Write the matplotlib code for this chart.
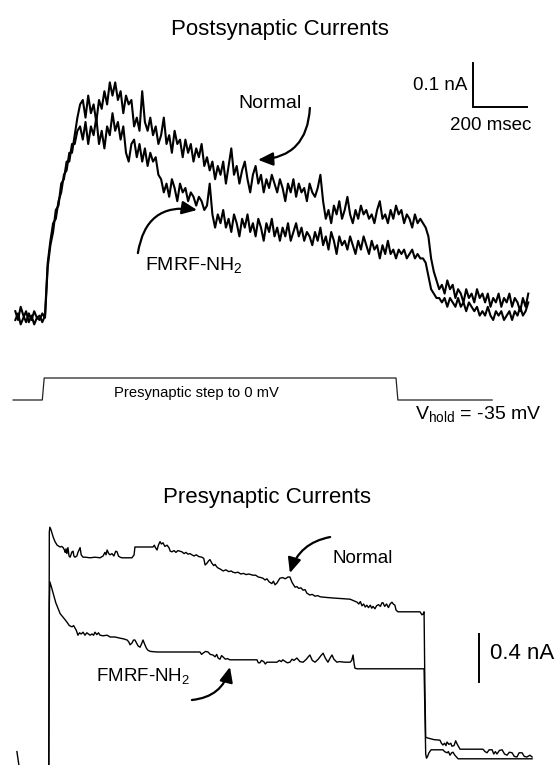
import numpy as np
import matplotlib.pyplot as plt

plt.rcParams['font.family'] = ['Liberation Sans', 'DejaVu Sans']

# postsynaptic currents (nA), one sample every 10 ms from 110 ms before the step
post_normal = [
    0.02, 0.0, 0.03, 0.01, -0.005, 0.015, 0.0, 0.02, 0.005, 0.01, -0.005, 0.01,
    0.13, 0.18, 0.22, 0.23, 0.27, 0.29, 0.33, 0.34, 0.38, 0.38, 0.42, 0.46, 0.49,
    0.50, 0.46, 0.51, 0.47, 0.49, 0.45, 0.50, 0.48, 0.52, 0.49, 0.54, 0.51, 0.54, 0.50, 0.52, 0.47, 0.51, 0.49, 0.50,
    0.44, 0.46, 0.43, 0.52, 0.45, 0.43, 0.46, 0.42, 0.44, 0.40,
    0.42, 0.46, 0.40, 0.42, 0.38, 0.43, 0.40, 0.41, 0.37, 0.41, 0.38, 0.40, 0.36, 0.39, 0.37, 0.40, 0.35, 0.37,
    0.34, 0.36, 0.32, 0.35, 0.33, 0.36, 0.31, 0.35, 0.39, 0.33, 0.35, 0.31, 0.34, 0.36, 0.32, 0.29, 0.33, 0.35,
    0.31, 0.33, 0.29, 0.32, 0.30, 0.33, 0.31, 0.29, 0.32,
    0.30, 0.27, 0.31, 0.29, 0.32, 0.28, 0.31, 0.29, 0.30, 0.27, 0.31, 0.29, 0.28, 0.30, 0.33,
    0.27, 0.23, 0.25, 0.22, 0.26, 0.24, 0.27, 0.23, 0.25, 0.28, 0.24, 0.22, 0.25, 0.23, 0.26, 0.24, 0.25, 0.23,
    0.24, 0.22, 0.25, 0.27, 0.23, 0.24, 0.22, 0.25, 0.23, 0.26, 0.24, 0.25, 0.22, 0.24, 0.23, 0.21, 0.24, 0.22, 0.23,
    0.22, 0.21, 0.19, 0.14, 0.11, 0.09,
    0.07, 0.08, 0.06, 0.09, 0.07, 0.08, 0.05, 0.07, 0.06, 0.04, 0.07, 0.05, 0.06, 0.04, 0.07, 0.05, 0.06,
    0.04, 0.06, 0.03, 0.05, 0.04, 0.06, 0.03, 0.05, 0.04, 0.06, 0.03, 0.05, 0.04, 0.02, 0.05, 0.03, 0.06,
]
post_fmrf = [
    0.0, 0.015, -0.01, 0.005, 0.02, -0.005, 0.01, -0.01, 0.005, 0.0, 0.015, 0.005,
    0.12, 0.17, 0.20, 0.25, 0.26, 0.31, 0.32, 0.36, 0.36, 0.40, 0.40, 0.43, 0.44,
    0.41, 0.45, 0.40, 0.44, 0.42, 0.46, 0.40, 0.43, 0.39, 0.44, 0.42, 0.47, 0.43, 0.45, 0.41, 0.44, 0.38, 0.36, 0.40,
    0.41, 0.37, 0.40, 0.36, 0.39, 0.35, 0.38, 0.36, 0.37, 0.33,
    0.32, 0.29, 0.31, 0.28, 0.32, 0.30, 0.27, 0.31, 0.29, 0.30, 0.27, 0.29, 0.28, 0.26, 0.28, 0.27, 0.25, 0.26,
    0.31, 0.24, 0.21, 0.24, 0.22, 0.25, 0.21, 0.23, 0.20, 0.24, 0.22, 0.19, 0.23, 0.21, 0.24, 0.20, 0.22, 0.19,
    0.23, 0.21, 0.18, 0.22, 0.20, 0.23, 0.19, 0.21, 0.18,
    0.21, 0.19, 0.22, 0.18, 0.20, 0.22, 0.19, 0.21, 0.18, 0.20, 0.19, 0.17, 0.20, 0.18, 0.21,
    0.17, 0.19, 0.16, 0.20, 0.18, 0.15, 0.19, 0.17, 0.18, 0.16, 0.19, 0.17, 0.15, 0.18, 0.16, 0.19, 0.17, 0.15,
    0.18, 0.16, 0.17, 0.14, 0.17, 0.15, 0.18, 0.15, 0.16, 0.14, 0.16, 0.15, 0.16, 0.14, 0.15, 0.16, 0.14, 0.15, 0.14,
    0.14, 0.13, 0.10, 0.07, 0.06, 0.05,
    0.05, 0.04, 0.05, 0.03, 0.05, 0.04, 0.03, 0.05, 0.03, 0.04, 0.02, 0.04, 0.03, 0.02, 0.03, 0.01, 0.02,
    0.01, 0.03, 0.01, 0.0, 0.02, 0.01, 0.02, 0.0, 0.01, 0.02, 0.0, 0.02, 0.01, 0.03, 0.01, 0.02, 0.04,
]
post_t_normal = -110 + 10 * np.arange(len(post_normal))
post_t_fmrf = -110 + 10 * np.arange(len(post_fmrf))

# presynaptic voltage step (ms, mV)
step_t = [-118, -10, -3, 1300, 1307, 1656]
step_v = [-35, -35, 0, 0, -35, -35]

# presynaptic currents (ms, nA)
pre_normal_t = [
    -104, -93, 14, 16, 18, 22, 30, 37, 45, 56, 62, 67, 72, 75, 78, 81, 85, 89, 93, 100, 104, 107, 111, 118,
    122, 126, 130, 134, 141, 150, 167, 185, 204, 215, 222, 226, 230, 236, 241, 248, 255, 262, 267, 272, 278,
    285, 322, 330, 333, 400, 405, 409, 415, 420, 426, 431, 437, 444, 452, 459, 464, 470, 478, 485, 492, 500,
    507, 515, 522, 530, 537, 544, 552, 560, 570, 581, 588, 593, 600, 606, 611, 618, 625, 630, 636, 641, 650,
    660, 670, 680, 690, 696, 705, 715, 725, 735, 745, 755, 770, 780, 790, 800, 807, 815, 822, 830, 840, 846,
    852, 859, 866, 870, 880, 890, 900, 907, 915, 926, 933, 940, 948, 956, 963, 970, 981, 990, 1000, 1010,
    1019, 1040, 1067, 1100, 1130, 1156, 1162, 1168, 1174, 1180, 1186, 1192, 1198, 1205, 1210, 1215, 1222,
    1228, 1235, 1242, 1248, 1252, 1258, 1265, 1272, 1278, 1285, 1290, 1296, 1300, 1307, 1389, 1396, 1400,
    1404, 1407, 1410, 1415, 1440, 1463, 1468, 1474, 1480, 1485, 1489, 1496, 1503, 1507, 1515, 1521, 1526,
    1537, 1622, 1630, 1637, 1645, 1656, 1662, 1668, 1674, 1683, 1693, 1702, 1711, 1720, 1730, 1738, 1748,
    1756, 1767, 1775, 1785, 1796, 1804,
]
pre_normal_i = [
    0.07, -0.10, -0.10, 1.90, 1.94, 1.92, 1.86, 1.82, 1.79, 1.775, 1.78, 1.77, 1.75, 1.73, 1.76, 1.72, 1.77,
    1.70, 1.69, 1.735, 1.74, 1.70, 1.69, 1.70, 1.73, 1.75, 1.77, 1.71, 1.69, 1.69, 1.685, 1.69, 1.685, 1.70,
    1.73, 1.71, 1.75, 1.72, 1.71, 1.72, 1.70, 1.74, 1.735, 1.70, 1.69, 1.685, 1.685, 1.71, 1.775, 1.775,
    1.79, 1.77, 1.75, 1.79, 1.82, 1.80, 1.81, 1.78, 1.79, 1.77, 1.74, 1.735, 1.745, 1.73, 1.745, 1.74, 1.735,
    1.72, 1.73, 1.715, 1.72, 1.71, 1.70, 1.71, 1.695, 1.69, 1.68, 1.625, 1.64, 1.66, 1.67, 1.64, 1.62, 1.63,
    1.61, 1.60, 1.59, 1.575, 1.585, 1.57, 1.575, 1.565, 1.56, 1.565, 1.55, 1.555, 1.545, 1.55, 1.54, 1.54,
    1.525, 1.52, 1.515, 1.50, 1.51, 1.485, 1.47, 1.49, 1.46, 1.475, 1.50, 1.515, 1.52, 1.51, 1.525, 1.525,
    1.48, 1.44, 1.445, 1.43, 1.435, 1.415, 1.42, 1.39, 1.375, 1.38, 1.365, 1.37, 1.36, 1.355, 1.35, 1.345,
    1.34, 1.315, 1.30, 1.32, 1.285, 1.30, 1.275, 1.29, 1.27, 1.29, 1.265, 1.28, 1.26, 1.285, 1.295, 1.28,
    1.31, 1.31, 1.28, 1.30, 1.27, 1.30, 1.315, 1.30, 1.29, 1.25, 1.235, 1.235, 1.21, 1.215, 1.235, 0.60,
    0.19, 0.185, 0.17, 0.165, 0.14, 0.125, 0.14, 0.12, 0.15, 0.13, 0.14, 0.115, 0.12, 0.16, 0.135, 0.09,
    0.09, 0.07, 0.06, 0.085, 0.085, 0.05, 0.07, 0.05, 0.08, 0.085, 0.05, 0.04, 0.065, 0.06, 0.03, 0.025,
    0.06, 0.06, 0.03, 0.025, 0.04, 0.025,
]
pre_fmrf_t = [
    -110, 14, 16, 18, 24, 30, 40, 48, 56, 67, 74, 81, 90, 100, 106, 111, 116, 122, 128, 134, 141, 148, 155,
    161, 167, 174, 180, 185, 192, 198, 204, 215, 230, 241, 260, 278, 290, 304, 310, 315, 322, 328, 333, 340,
    345, 352, 358, 363, 370, 376, 381, 390, 415, 574, 580, 585, 595, 604, 612, 622, 630, 636, 641, 648, 654,
    659, 668, 675, 685, 785, 790, 796, 802, 810, 816, 822, 859, 868, 875, 881, 890, 898, 907, 915, 922, 933,
    944, 956, 968, 975, 981, 990, 1000, 1012, 1022, 1030, 1038, 1048, 1056, 1063, 1070, 1081, 1090, 1110,
    1130, 1136, 1141, 1145, 1148, 1156, 1404, 1407, 1410, 1413, 1417, 1422, 1430, 1474, 1480, 1489, 1494,
    1500, 1506, 1511, 1518, 1524, 1530, 1804,
]
pre_fmrf_i = [
    -0.10, -0.10, 1.30, 1.485, 1.44, 1.39, 1.31, 1.265, 1.22, 1.19, 1.17, 1.15, 1.12, 1.11, 1.12, 1.10, 1.08,
    1.04, 1.06, 1.05, 1.065, 1.04, 1.06, 1.05, 1.04, 1.05, 1.04, 1.065, 1.045, 1.06, 1.04, 1.035, 1.04,
    1.025, 1.025, 1.015, 1.01, 1.0, 0.985, 0.96, 0.975, 1.0, 1.0, 0.97, 0.95, 0.94, 0.97, 1.0, 0.96, 0.93,
    0.915, 0.905, 0.9, 0.9, 0.88, 0.89, 0.905, 0.9, 0.88, 0.875, 0.86, 0.88, 0.85, 0.84, 0.87, 0.86, 0.84,
    0.845, 0.835, 0.835, 0.81, 0.81, 0.83, 0.82, 0.80, 0.815, 0.815, 0.83, 0.82, 0.835, 0.82, 0.81, 0.815,
    0.84, 0.83, 0.85, 0.82, 0.815, 0.84, 0.86, 0.875, 0.83, 0.815, 0.84, 0.87, 0.89, 0.85, 0.815, 0.85,
    0.875, 0.84, 0.815, 0.82, 0.815, 0.815, 0.83, 0.875, 0.80, 0.765, 0.76, 0.76, 0.40, 0.05, 0.015, 0.03,
    0.06, 0.085, 0.085, 0.07, 0.06, 0.07, 0.04, 0.06, 0.065, 0.04, 0.025, 0.01, 0.01,
]

W, H = 559, 765
px_per_ms = 0.27
t_lim = (-45 / px_per_ms, (W - 45) / px_per_ms)

fig = plt.figure(figsize=(W / 100, H / 100), dpi=100)

# --- postsynaptic panel ---
ax1 = fig.add_axes([0, 1 - 345 / H, 1, 305 / H])
ax1.set_xlim(*t_lim)
ax1.set_ylim(-25 / 440, 280 / 440)
ax1.axis('off')
ax1.plot(post_t_normal, post_normal, color='black', lw=1.5)
ax1.plot(post_t_fmrf, post_fmrf, color='black', lw=1.5)

# scale bars 0.1 nA / 200 msec
ax1.plot([1585, 1585, 1785], [0.584, 0.484, 0.484], color='black', lw=1.4, solid_joinstyle='miter')
ax1.text(1565, 0.534, '0.1 nA', ha='right', va='center', fontsize=13.5)
ax1.text(1650, 0.443, '200 msec', ha='center', va='center', fontsize=13.5)

arrow_kw = dict(arrowstyle='-|>,head_length=0.9,head_width=0.4', color='black', lw=1.6,
                shrinkA=0, shrinkB=0)
ax1.text(833, 0.493, 'Normal', ha='center', va='center', fontsize=14)
ax1.annotate('', xy=(789, 0.364), xytext=(981, 0.482),
             arrowprops=dict(connectionstyle='arc3,rad=-0.45', **arrow_kw))
ax1.text(552, 0.123, 'FMRF-NH$_\\mathregular{2}$', ha='center', va='center', fontsize=14)
ax1.annotate('', xy=(563, 0.25), xytext=(344, 0.152),
             arrowprops=dict(connectionstyle='arc3,rad=-0.5', **arrow_kw))

fig.text(280 / W, 1 - 30 / H, 'Postsynaptic Currents', ha='center', va='center', fontsize=16)

# --- presynaptic voltage step ---
ax2 = fig.add_axes([0, 1 - 425 / H, 1, 60 / H])
ax2.set_xlim(*t_lim)
ax2.set_ylim(-35 - 25 / 0.6286, 13 / 0.6286)
ax2.axis('off')
ax2.plot(step_t, step_v, color='#222222', lw=0.9)
fig.text(196 / W, 1 - 393 / H, 'Presynaptic step to 0 mV', ha='center', va='center', fontsize=10.6)
fig.text(478 / W, 1 - 415 / H, 'V$_\\mathregular{hold}$ = -35 mV', ha='center', va='center', fontsize=14)

# --- presynaptic currents ---
ax3 = fig.add_axes([0, 0, 1, 250 / H])
ax3.set_xlim(*t_lim)
ax3.set_ylim(-5 / 120, 245 / 120)
ax3.axis('off')
ax3.plot(pre_normal_t, pre_normal_i, color='black', lw=1.0)
ax3.plot(pre_fmrf_t, pre_fmrf_i, color='black', lw=1.0)

# 0.4 nA scale bar
ax3.plot([1607, 1607], [0.65, 1.05], color='black', lw=1.4)
ax3.text(1648, 0.89, '0.4 nA', ha='left', va='center', fontsize=16)

ax3.text(1178, 1.683, 'Normal', ha='center', va='center', fontsize=13.5)
ax3.annotate('', xy=(907, 1.558), xytext=(1056, 1.858),
             arrowprops=dict(connectionstyle='arc3,rad=0.3', **arrow_kw))
ax3.text(363, 0.69, 'FMRF-NH$_\\mathregular{2}$', ha='center', va='center', fontsize=13.5)
ax3.annotate('', xy=(685, 0.775), xytext=(544, 0.5),
             arrowprops=dict(connectionstyle='arc3,rad=0.35', **arrow_kw))

fig.text(267 / W, 1 - 498 / H, 'Presynaptic Currents', ha='center', va='center', fontsize=16)

fig.savefig('out.png', dpi=100, facecolor='white')
